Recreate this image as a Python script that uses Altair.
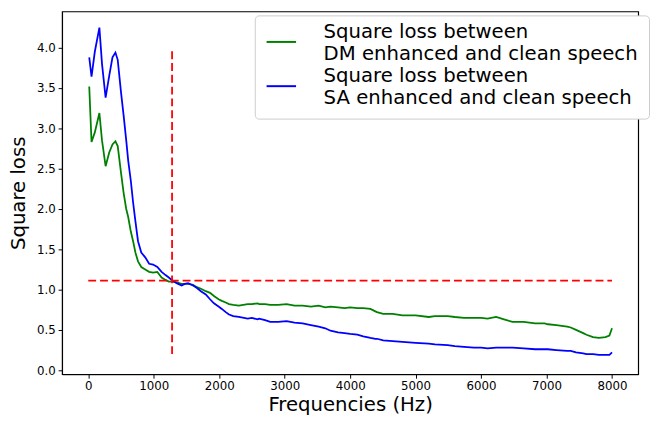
import altair as alt
import pandas as pd

freqs = [15, 50, 100, 170, 210, 265, 320, 370, 415, 450, 500, 540, 580, 610, 650, 685, 720, 760, 810, 870,
         930, 990, 1055, 1120, 1180, 1230, 1275, 1350, 1425, 1475, 1525, 1600, 1660, 1720, 1795, 1860, 1920,
         1990, 2040, 2100, 2150, 2215, 2300, 2435, 2500, 2585, 2610, 2700, 2780, 2900, 3030, 3150, 3275, 3400,
         3520, 3620, 3700, 3815, 3915, 4000, 4110, 4200, 4310, 4385, 4410, 4505, 4650, 4800, 5000, 5200, 5295,
         5490, 5600, 5740, 5890, 6000, 6100, 6230, 6350, 6480, 6650, 6825, 6970, 7020, 7150, 7315, 7370, 7450,
         7560, 7610, 7710, 7800, 7900, 7960, 8000]

sa_loss = [3.88, 3.64, 3.95, 4.25, 3.80, 3.38, 3.65, 3.88, 3.94, 3.85, 3.45, 3.16, 2.85, 2.60, 2.35, 2.08, 1.85,
           1.60, 1.46, 1.40, 1.32, 1.31, 1.28, 1.22, 1.18, 1.15, 1.12, 1.08, 1.05, 1.07, 1.08, 1.05, 1.02, 0.98,
           0.94, 0.88, 0.83, 0.79, 0.76, 0.72, 0.69, 0.67, 0.66, 0.64, 0.65, 0.63, 0.64, 0.62, 0.60, 0.60, 0.61,
           0.59, 0.58, 0.56, 0.54, 0.52, 0.49, 0.47, 0.46, 0.45, 0.44, 0.42, 0.40, 0.39, 0.39, 0.37, 0.36, 0.35,
           0.34, 0.33, 0.32, 0.31, 0.30, 0.29, 0.28, 0.28, 0.27, 0.28, 0.28, 0.28, 0.27, 0.26, 0.26, 0.26, 0.25,
           0.24, 0.24, 0.22, 0.21, 0.20, 0.20, 0.19, 0.19, 0.19, 0.22]

dm_loss = [3.52, 2.83, 2.95, 3.19, 2.85, 2.53, 2.70, 2.80, 2.84, 2.78, 2.45, 2.20, 2.00, 1.90, 1.72, 1.60, 1.46,
           1.35, 1.28, 1.25, 1.22, 1.21, 1.22, 1.15, 1.12, 1.10, 1.10, 1.09, 1.07, 1.07, 1.07, 1.06, 1.03, 1.01,
           0.98, 0.96, 0.92, 0.88, 0.86, 0.84, 0.82, 0.81, 0.80, 0.82, 0.82, 0.83, 0.82, 0.82, 0.81, 0.81, 0.82,
           0.80, 0.80, 0.79, 0.80, 0.78, 0.79, 0.78, 0.77, 0.78, 0.77, 0.77, 0.76, 0.73, 0.72, 0.70, 0.70, 0.68,
           0.68, 0.66, 0.67, 0.67, 0.66, 0.65, 0.65, 0.65, 0.64, 0.66, 0.63, 0.60, 0.60, 0.58, 0.58, 0.57, 0.56,
           0.54, 0.53, 0.50, 0.46, 0.44, 0.41, 0.40, 0.41, 0.43, 0.52]

series_names = ["Square loss between\nDM enhanced and clean speech",
                "Square loss between\nSA enhanced and clean speech"]
series_colors = ["#008000", "#0000ff"]

vline_x = [1280]
vline_y = [0.2]
vline_y2 = [4.0]
hline_y = [1.11]
hline_x = [0]
hline_x2 = [8000]

rows = []
for f, v in zip(freqs, dm_loss):
    rows.append({"freq": f, "loss": v, "series": series_names[0]})
for f, v in zip(freqs, sa_loss):
    rows.append({"freq": f, "loss": v, "series": series_names[1]})
df = pd.DataFrame(rows)

FONT = "DejaVu Sans"
x_scale = alt.Scale(domain=[-400, 8400], nice=False, zero=False)
y_scale = alt.Scale(domain=[-0.05, 4.45], nice=False, zero=False)

x_axis = alt.Axis(values=list(range(0, 8001, 1000)), format="d", grid=False, title="Frequencies (Hz)",
                  titleFontSize=20, titleFontWeight="normal", titleFont=FONT, titlePadding=3,
                  labelFontSize=12, labelFont=FONT, labelColor="black", labelPadding=3,
                  tickColor="black", tickSize=4, domainColor="black")
y_axis = alt.Axis(values=[0, 0.5, 1, 1.5, 2, 2.5, 3, 3.5, 4], format=".1f", grid=False, title="Square loss",
                  titleFontSize=20, titleFontWeight="normal", titleFont=FONT, titlePadding=8,
                  labelFontSize=12, labelFont=FONT, labelColor="black", labelPadding=3,
                  tickColor="black", tickSize=4, domainColor="black")

lines = alt.Chart(df).mark_line(strokeWidth=1.8).encode(
    x=alt.X("freq:Q", scale=x_scale, axis=x_axis),
    y=alt.Y("loss:Q", scale=y_scale, axis=y_axis),
    color=alt.Color("series:N", scale=alt.Scale(domain=series_names, range=series_colors),
                    sort=series_names,
                    legend=alt.Legend(title=None, orient="none", legendX=196, legendY=4,
                                      labelExpr="split(datum.label, '\\n')",
                                      labelFontSize=20, labelFont=FONT, labelLimit=0, labelColor="black",
                                      labelBaseline="bottom",
                                      symbolType="stroke", symbolSize=900, symbolStrokeWidth=2,
                                      labelOffset=27, rowPadding=3, padding=11,
                                      fillColor="white", strokeColor="#cccccc", cornerRadius=4)),
)

vdf = pd.DataFrame({"x": vline_x, "y": vline_y, "y2": vline_y2})
hdf = pd.DataFrame({"y": hline_y, "x": hline_x, "x2": hline_x2})

vrule = alt.Chart(vdf).mark_rule(color="#ff0000", strokeWidth=1.8, strokeDash=[8, 4]).encode(
    x=alt.X("x:Q", scale=x_scale), y=alt.Y("y:Q", scale=y_scale), y2="y2:Q")
hrule = alt.Chart(hdf).mark_rule(color="#ff0000", strokeWidth=1.8, strokeDash=[8, 4]).encode(
    y=alt.Y("y:Q", scale=y_scale), x=alt.X("x:Q", scale=x_scale), x2="x2:Q")

chart = alt.layer(lines, vrule, hrule).properties(
    width=586, height=369, background="white",
    padding={"left": 0, "top": 0, "right": 0, "bottom": 0}
).configure_view(stroke="black", strokeWidth=1.2)

chart.save("out.html", embed_options={"renderer": "svg", "actions": False})
